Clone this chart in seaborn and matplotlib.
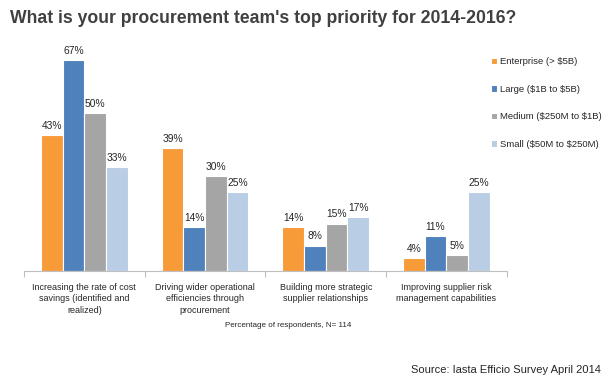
import pandas as pd
import matplotlib.pyplot as plt
import seaborn as sns

# Chart data
priorities = [
    'Increasing the rate of cost\nsavings (identified and\nrealized)',
    'Driving wider operational\nefficiencies through\nprocurement',
    'Building more strategic\nsupplier relationships',
    'Improving supplier risk\nmanagement capabilities',
]
segments = [r'Enterprise (> \$5B)', r'Large (\$1B to \$5B)',
            r'Medium (\$250M to \$1B)', r'Small (\$50M to \$250M)']
enterprise = [43, 39, 14, 4]
large = [67, 14, 8, 11]
medium = [50, 30, 15, 5]
small = [33, 25, 17, 25]

colors = ['#F79A38', '#4F81BD', '#A5A5A5', '#B9CDE5']

# Long format for seaborn
rows = []
for seg, vals in zip(segments, [enterprise, large, medium, small]):
    for p, v in zip(priorities, vals):
        rows.append({'Priority': p, 'Segment': seg, 'Pct': v})
df = pd.DataFrame(rows)

sns.set_theme(style='white')
plt.rcParams['font.family'] = ['Liberation Sans', 'DejaVu Sans']

fig = plt.figure(figsize=(6.08, 3.82), dpi=100)
ax = fig.add_axes([0.0395, 0.291, 0.794, 0.577])

sns.barplot(data=df, x='Priority', y='Pct', hue='Segment', order=priorities,
            hue_order=segments, palette=colors, width=0.72, saturation=1,
            edgecolor='white', linewidth=0.8, ax=ax)

# Value labels
for cont in ax.containers:
    ax.bar_label(cont, labels=[f'{int(v)}%' for v in cont.datavalues],
                 fontsize=7.4, color='#262626', padding=3)

ax.set_ylim(0, 70)
ax.set_xlim(-0.5, 3.5)
ax.set_xlabel('')
ax.set_ylabel('')
ax.set_yticks([])
for side in ['top', 'right', 'left']:
    ax.spines[side].set_visible(False)
ax.spines['bottom'].set_color('#BFBFBF')
ax.spines['bottom'].set_linewidth(0.8)

# Category labels, ticks at the group boundaries
ax.set_xticks(range(len(priorities)))
ax.set_xticklabels(priorities, fontsize=6.5, color='#262626', linespacing=1.3)
ax.tick_params(axis='x', which='major', length=0, pad=9)
ax.set_xticks([-0.5, 0.5, 1.5, 2.5, 3.5], minor=True)
ax.tick_params(axis='x', which='minor', length=4, color='#BFBFBF', width=0.8,
               bottom=True)

# Legend on the right
handles, labels = ax.get_legend_handles_labels()
ax.legend(handles, labels, loc='upper left', bbox_to_anchor=(0.807, 0.85),
          bbox_transform=fig.transFigure, frameon=False, fontsize=6.8,
          labelspacing=1.95, handlelength=0.7, handleheight=0.7,
          handletextpad=0.3, borderpad=0, borderaxespad=0,
          labelcolor='#262626')

fig.text(0.016, 0.939, "What is your procurement team's top priority for 2014-2016?",
         fontsize=12.7, fontweight='bold', color='#404040', va='baseline')
fig.text(0.474, 0.149, 'Percentage of respondents, N= 114',
         fontsize=5.8, color='#262626', ha='center', va='center')
fig.text(0.988, 0.031, 'Source: Iasta Efficio Survey April 2014',
         fontsize=8, color='#262626', ha='right', va='center')

fig.savefig('out.png', dpi=100)
